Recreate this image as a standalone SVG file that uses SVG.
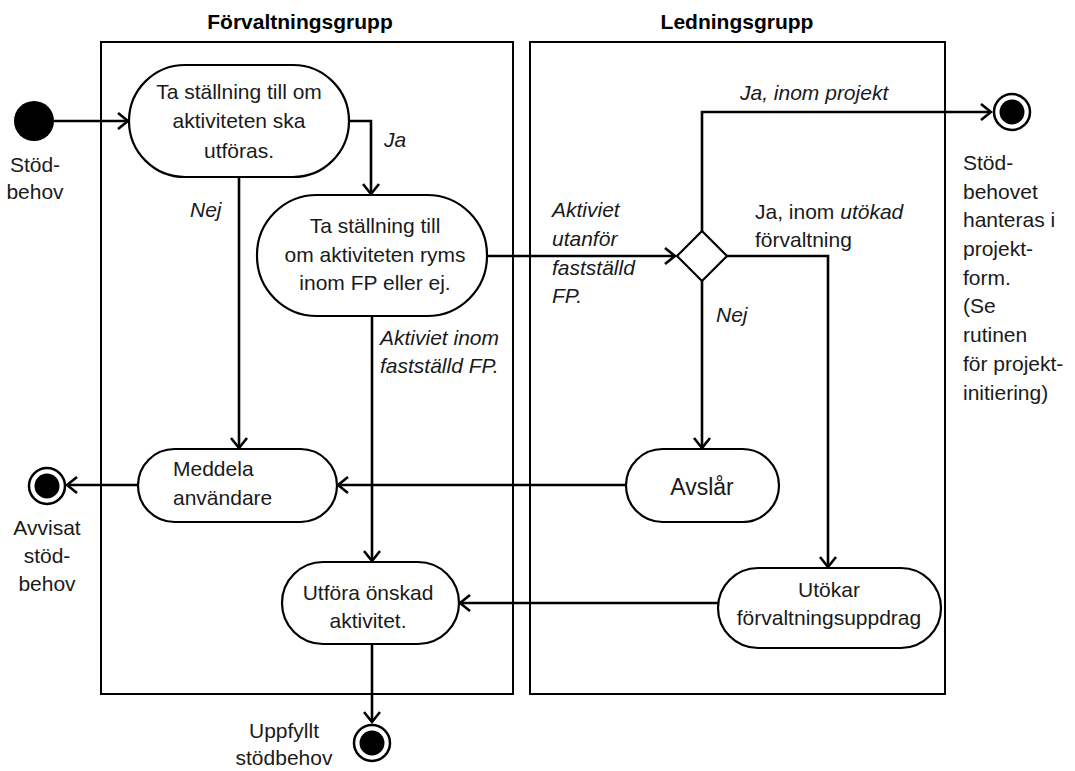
<svg xmlns="http://www.w3.org/2000/svg" width="1075" height="771" viewBox="0 0 1075 771">
<style>
text{font-family:"Liberation Sans",Arial,sans-serif;font-size:21px;fill:#1a1a1a}
.t{text-anchor:middle}
.i{font-style:italic}
.h{font-weight:bold;font-size:21px;text-anchor:middle;fill:#000}
.node{fill:#fff;stroke:#000;stroke-width:2.2}
.lane{fill:none;stroke:#000;stroke-width:2}
.c{fill:none;stroke:#000;stroke-width:2.6}
</style>
<defs>
<marker id="arr" markerWidth="14" markerHeight="18" refX="12" refY="9" orient="auto" markerUnits="userSpaceOnUse">
<path d="M2,1 L12,9 L2,17" fill="none" stroke="#000" stroke-width="2.6"/>
</marker>
</defs>
<rect width="1075" height="771" fill="#fff"/>
<g id="lanes">
<rect class="lane" x="101" y="42" width="412" height="652"/>
<rect class="lane" x="530" y="42" width="415" height="652"/>
<text class="h" x="300" y="29">Förvaltningsgrupp</text>
<text class="h" x="737" y="29">Ledningsgrupp</text>
</g>
<g id="connectors">
<path class="c" d="M54,121 H128" marker-end="url(#arr)"/>
<path class="c" d="M349,121 H371 V194" marker-end="url(#arr)"/>
<path class="c" d="M239,177 V448" marker-end="url(#arr)"/>
<path class="c" d="M372,316 V561" marker-end="url(#arr)"/>
<path class="c" d="M487,256 H675" marker-end="url(#arr)"/>
<path class="c" d="M702,231 V112 H991" marker-end="url(#arr)"/>
<path class="c" d="M727,256 H828 V567" marker-end="url(#arr)"/>
<path class="c" d="M702,281 V448" marker-end="url(#arr)"/>
<path class="c" d="M626,485 H338" marker-end="url(#arr)"/>
<path class="c" d="M138,485 H67" marker-end="url(#arr)"/>
<path class="c" d="M718,603 H460" marker-end="url(#arr)"/>
<path class="c" d="M372,644 V722" marker-end="url(#arr)"/>
<text class="i" x="384" y="147">Ja</text>
<text class="i" x="190" y="217">Nej</text>
<text class="i" x="380" y="345">Aktiviet inom</text>
<text class="i" x="380" y="373">fastställd FP.</text>
<text class="i" x="552" y="217">Aktiviet</text>
<text class="i" x="552" y="246">utanför</text>
<text class="i" x="552" y="275">fastställd</text>
<text class="i" x="552" y="303">FP.</text>
<text class="i" x="740" y="100">Ja, inom projekt</text>
<text x="755" y="219">Ja, inom <tspan class="i">utökad</tspan></text>
<text x="755" y="247">förvaltning</text>
<text class="i" x="716" y="322">Nej</text>
</g>
<g id="start">
<circle cx="34" cy="121" r="20" fill="#000"/>
<text class="t" x="35" y="172">Stöd-</text>
<text class="t" x="35" y="199">behov</text>
</g>
<g id="n1">
<rect class="node" x="129" y="65" width="220" height="112" rx="56" ry="56"/>
<text class="t" x="239" y="99">Ta ställning till om</text>
<text class="t" x="239" y="128">aktiviteten ska</text>
<text class="t" x="239" y="158">utföras.</text>
</g>
<g id="n2">
<rect class="node" x="257" y="195" width="230" height="121" rx="60" ry="60"/>
<text class="t" x="375" y="233">Ta ställning till</text>
<text class="t" x="375" y="262">om aktiviteten ryms</text>
<text class="t" x="375" y="290">inom FP eller ej.</text>
</g>
<g id="decision">
<path class="node" d="M702,231 L727,256 L702,281 L677,256 Z"/>
</g>
<g id="end-projekt">
<circle cx="1012" cy="112" r="18" fill="#fff" stroke="#000" stroke-width="2.5"/>
<circle cx="1012" cy="112" r="12.5" fill="#000"/>
<text x="963" y="170">Stöd-</text>
<text x="963" y="199">behovet</text>
<text x="963" y="227">hanteras i</text>
<text x="963" y="256">projekt-</text>
<text x="963" y="285">form.</text>
<text x="963" y="313">(Se</text>
<text x="963" y="342">rutinen</text>
<text x="963" y="371">för projekt-</text>
<text x="963" y="400">initiering)</text>
</g>
<g id="meddela">
<rect class="node" x="138" y="449" width="199" height="73" rx="36.5" ry="36.5"/>
<text x="173" y="476">Meddela</text>
<text x="173" y="505">användare</text>
</g>
<g id="avslar">
<rect class="node" x="626" y="449" width="153" height="73" rx="36.5" ry="36.5"/>
<text class="t" x="702" y="495" style="font-size:23px">Avslår</text>
</g>
<g id="end-avvisat">
<circle cx="47" cy="486" r="18" fill="#fff" stroke="#000" stroke-width="2.5"/>
<circle cx="47" cy="486" r="12.5" fill="#000"/>
<text class="t" x="47" y="535">Avvisat</text>
<text class="t" x="47" y="563">stöd-</text>
<text class="t" x="47" y="591">behov</text>
</g>
<g id="utfora">
<rect class="node" x="282" y="562" width="177" height="82" rx="41" ry="41"/>
<text class="t" x="368" y="600">Utföra önskad</text>
<text class="t" x="368" y="628">aktivitet.</text>
</g>
<g id="utokar">
<rect class="node" x="718" y="568" width="223" height="80" rx="40" ry="40"/>
<text class="t" x="829" y="597">Utökar</text>
<text class="t" x="829" y="625">förvaltningsuppdrag</text>
</g>
<g id="end-uppfyllt">
<circle cx="372" cy="743" r="18" fill="#fff" stroke="#000" stroke-width="2.5"/>
<circle cx="372" cy="743" r="12.5" fill="#000"/>
<text class="t" x="284" y="738">Uppfyllt</text>
<text class="t" x="284" y="765">stödbehov</text>
</g>
</svg>
